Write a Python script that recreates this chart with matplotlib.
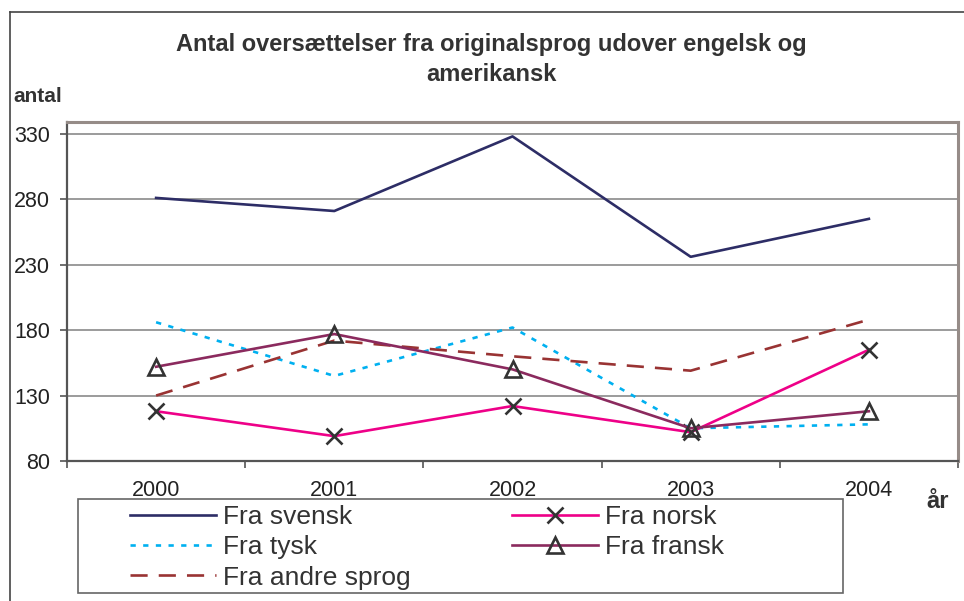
import numpy as np
import matplotlib
matplotlib.use('Agg')
import matplotlib.pyplot as plt
from matplotlib.lines import Line2D
from matplotlib.patches import Rectangle

plt.rcParams['font.family'] = ['Liberation Sans', 'DejaVu Sans']

# data
years = ['2000', '2001', '2002', '2003', '2004']
svensk = [281, 271, 328, 236, 265]
norsk = [118, 99, 122, 102, 165]
tysk = [186, 145, 182, 105, 108]
fransk = [152, 177, 150, 105, 118]
andre = [130, 172, 160, 149, 188]

title = 'Antal oversættelser fra originalsprog udover engelsk og\namerikansk'
yticks = [80, 130, 180, 230, 280, 330]

W, H = 964, 601
fig = plt.figure(figsize=(W / 100, H / 100), dpi=100)
fig.patch.set_facecolor('white')

# axes box in pixel coords of the reference
x0, x1, ytop, ybot = 67, 958, 122, 461
ax = fig.add_axes([x0 / W, 1 - ybot / H, (x1 - x0) / W, (ybot - ytop) / H])

x = np.arange(len(years))
mk = '#333333'
lw = 1.9

ax.plot(x, svensk, color='#2d2d66', lw=lw, label='Fra svensk', zorder=3)
ax.plot(x, tysk, color='#00b0f0', lw=lw, dashes=(2, 2.8), label='Fra tysk', zorder=3)
ax.plot(x, andre, color='#993333', lw=lw, dashes=(6.5, 4.2), label='Fra andre sprog', zorder=3)
ax.plot(x, norsk, color='#ee0088', lw=lw, marker='x', ms=11, mew=1.9, mec=mk,
        label='Fra norsk', zorder=4)
ax.plot(x, fransk, color='#8b2a5e', lw=lw, marker='^', ms=12, mew=1.9, mec=mk,
        mfc='none', label='Fra fransk', zorder=4)

ax.set_xlim(-0.5, len(years) - 0.5)
ax.set_ylim(80, 339)

ax.set_yticks(yticks)
ax.set_yticklabels([str(v) for v in yticks])
ax.yaxis.grid(True, color='#808080', lw=1.1)
ax.set_axisbelow(True)

ax.set_xticks(np.arange(-0.5, len(years)), minor=False)
ax.set_xticklabels([''] * (len(years) + 1))
ax.set_xticks(x, minor=True)
ax.set_xticklabels(years, minor=True)
ax.tick_params(axis='x', which='major', length=5, width=1.2, color='#555555', direction='out')
ax.tick_params(axis='x', which='minor', length=0, pad=14, labelsize=15.5, labelcolor='#222222')
ax.tick_params(axis='y', length=5, width=1.2, color='#555555', pad=7,
               labelsize=15.5, labelcolor='#222222')

for s in ['top', 'right']:
    ax.spines[s].set_color('#968c88')
    ax.spines[s].set_linewidth(2.2)
for s in ['left', 'bottom']:
    ax.spines[s].set_color('#555555')
    ax.spines[s].set_linewidth(1.6)

# title and axis labels
fig.text(491 / W, 1 - 59.5 / H, title, ha='center', va='center', fontsize=17,
         fontweight='bold', color='#333333', linespacing=1.38)
fig.text(13 / W, 1 - 97 / H, 'antal', ha='left', va='center', fontsize=15,
         fontweight='bold', color='#333333')
fig.text(938 / W, 1 - 502 / H, 'år', ha='center', va='center', fontsize=17,
         fontweight='bold', color='#333333')

# legend: entries frameless, box drawn separately
lb = (130 / W, 1 - 592 / H, (724 - 130) / W, (592 - 505) / H)
leg = fig.legend(loc='upper left', bbox_to_anchor=lb, mode='expand', ncol=2,
                 fontsize=19, handlelength=3.25, handletextpad=0.27,
                 labelspacing=0.24, borderpad=0, borderaxespad=0,
                 frameon=False)
for t in leg.get_texts():
    t.set_color('#333333')
fig.add_artist(Rectangle((78 / W, 1 - 593 / H), (843 - 78) / W, (593 - 499) / H,
                         transform=fig.transFigure, fill=False,
                         edgecolor='#666666', lw=1.2))

# outer chart border (only left and top visible in the crop)
fig.add_artist(Line2D([10 / W, 10 / W], [0, 1 - 12 / H], color='#444444', lw=1.2))
fig.add_artist(Line2D([10 / W, 1], [1 - 12 / H, 1 - 12 / H], color='#444444', lw=1.2))

fig.savefig('out.png', dpi=100)
